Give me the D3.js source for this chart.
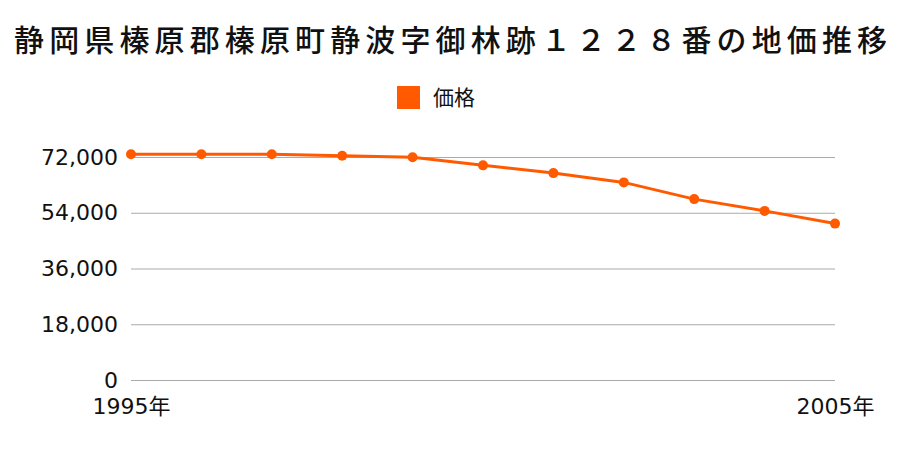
<!DOCTYPE html>
<html>
<head>
<meta charset="utf-8">
<title>地価推移</title>
<script src="https://cdn.jsdelivr.net/npm/d3@7"></script>
<style>
    body { margin: 0; background: #fff; }
    text { font-family: "Noto Sans CJK JP", "Noto Sans", sans-serif; fill: #111; }
</style>
</head>
<body>
<script>
    // data
    var years = [1995, 1996, 1997, 1998, 1999, 2000, 2001, 2002, 2003, 2004, 2005];
    var prices = [72900, 72900, 72900, 72400, 71900, 69300, 66800, 63800, 58400, 54600, 50500];
    var yTicks = [0, 18000, 36000, 54000, 72000];
    var xTickLabels = ["1995年", "2005年"];

    var w = 900, h = 450;
    var color = "#ff5a00";
    var numFont = "'DejaVu Sans', 'Noto Sans CJK JP', sans-serif";

    var svg = d3.select("body").append("svg")
            .attr("width", w)
            .attr("height", h);

    var x = d3.scaleLinear().domain([1995, 2005]).range([131, 835]);
    var y = d3.scaleLinear().domain([0, 72000]).range([380, 157]);

    // title
    svg.append("text")
            .attr("x", 14).attr("y", 51)
            .attr("font-size", 30)
            .attr("font-weight", 500)
            .attr("textLength", 873)
            .attr("lengthAdjust", "spacing")
            .text("静岡県榛原郡榛原町静波字御林跡１２２８番の地価推移");

    // legend
    svg.append("rect")
            .attr("x", 397).attr("y", 86)
            .attr("width", 23).attr("height", 23)
            .attr("fill", color);
    svg.append("text")
            .attr("x", 433).attr("y", 105)
            .attr("font-size", 21)
            .text("価格");

    // grid + y labels
    var yAxis = d3.axisLeft(y)
            .tickValues(yTicks)
            .tickSize(-(835 - 131))
            .tickPadding(13)
            .tickFormat(d3.format(","));
    var gy = svg.append("g")
            .attr("transform", "translate(131,0)")
            .call(yAxis);
    gy.select(".domain").remove();
    gy.selectAll(".tick line").attr("stroke", "#aaa");
    gy.selectAll(".tick text")
            .style("font-family", numFont)
            .attr("font-size", 22)
            .attr("fill", "#111");

    // x labels
    var xAxis = d3.axisBottom(x)
            .tickValues([1995, 2005])
            .tickSize(0)
            .tickPadding(0)
            .tickFormat(function(d, i) { return xTickLabels[i]; });
    var gx = svg.append("g")
            .attr("transform", "translate(0,380)")
            .call(xAxis);
    gx.select(".domain").remove();
    gx.selectAll(".tick text")
            .attr("dy", null)
            .attr("y", 34)
            .style("font-family", numFont)
            .attr("font-size", 22)
            .attr("fill", "#111");

    // line + dots
    var line = d3.line()
            .x(function(d, i) { return x(years[i]); })
            .y(function(d) { return y(d); });

    svg.append("path")
            .datum(prices)
            .attr("d", line)
            .attr("fill", "none")
            .attr("stroke", color)
            .attr("stroke-width", 3);

    svg.selectAll("circle")
            .data(prices)
            .enter()
            .append("circle")
            .attr("cx", function(d, i) { return x(years[i]); })
            .attr("cy", function(d) { return y(d); })
            .attr("r", 5)
            .attr("fill", color);
</script>
</body>
</html>
